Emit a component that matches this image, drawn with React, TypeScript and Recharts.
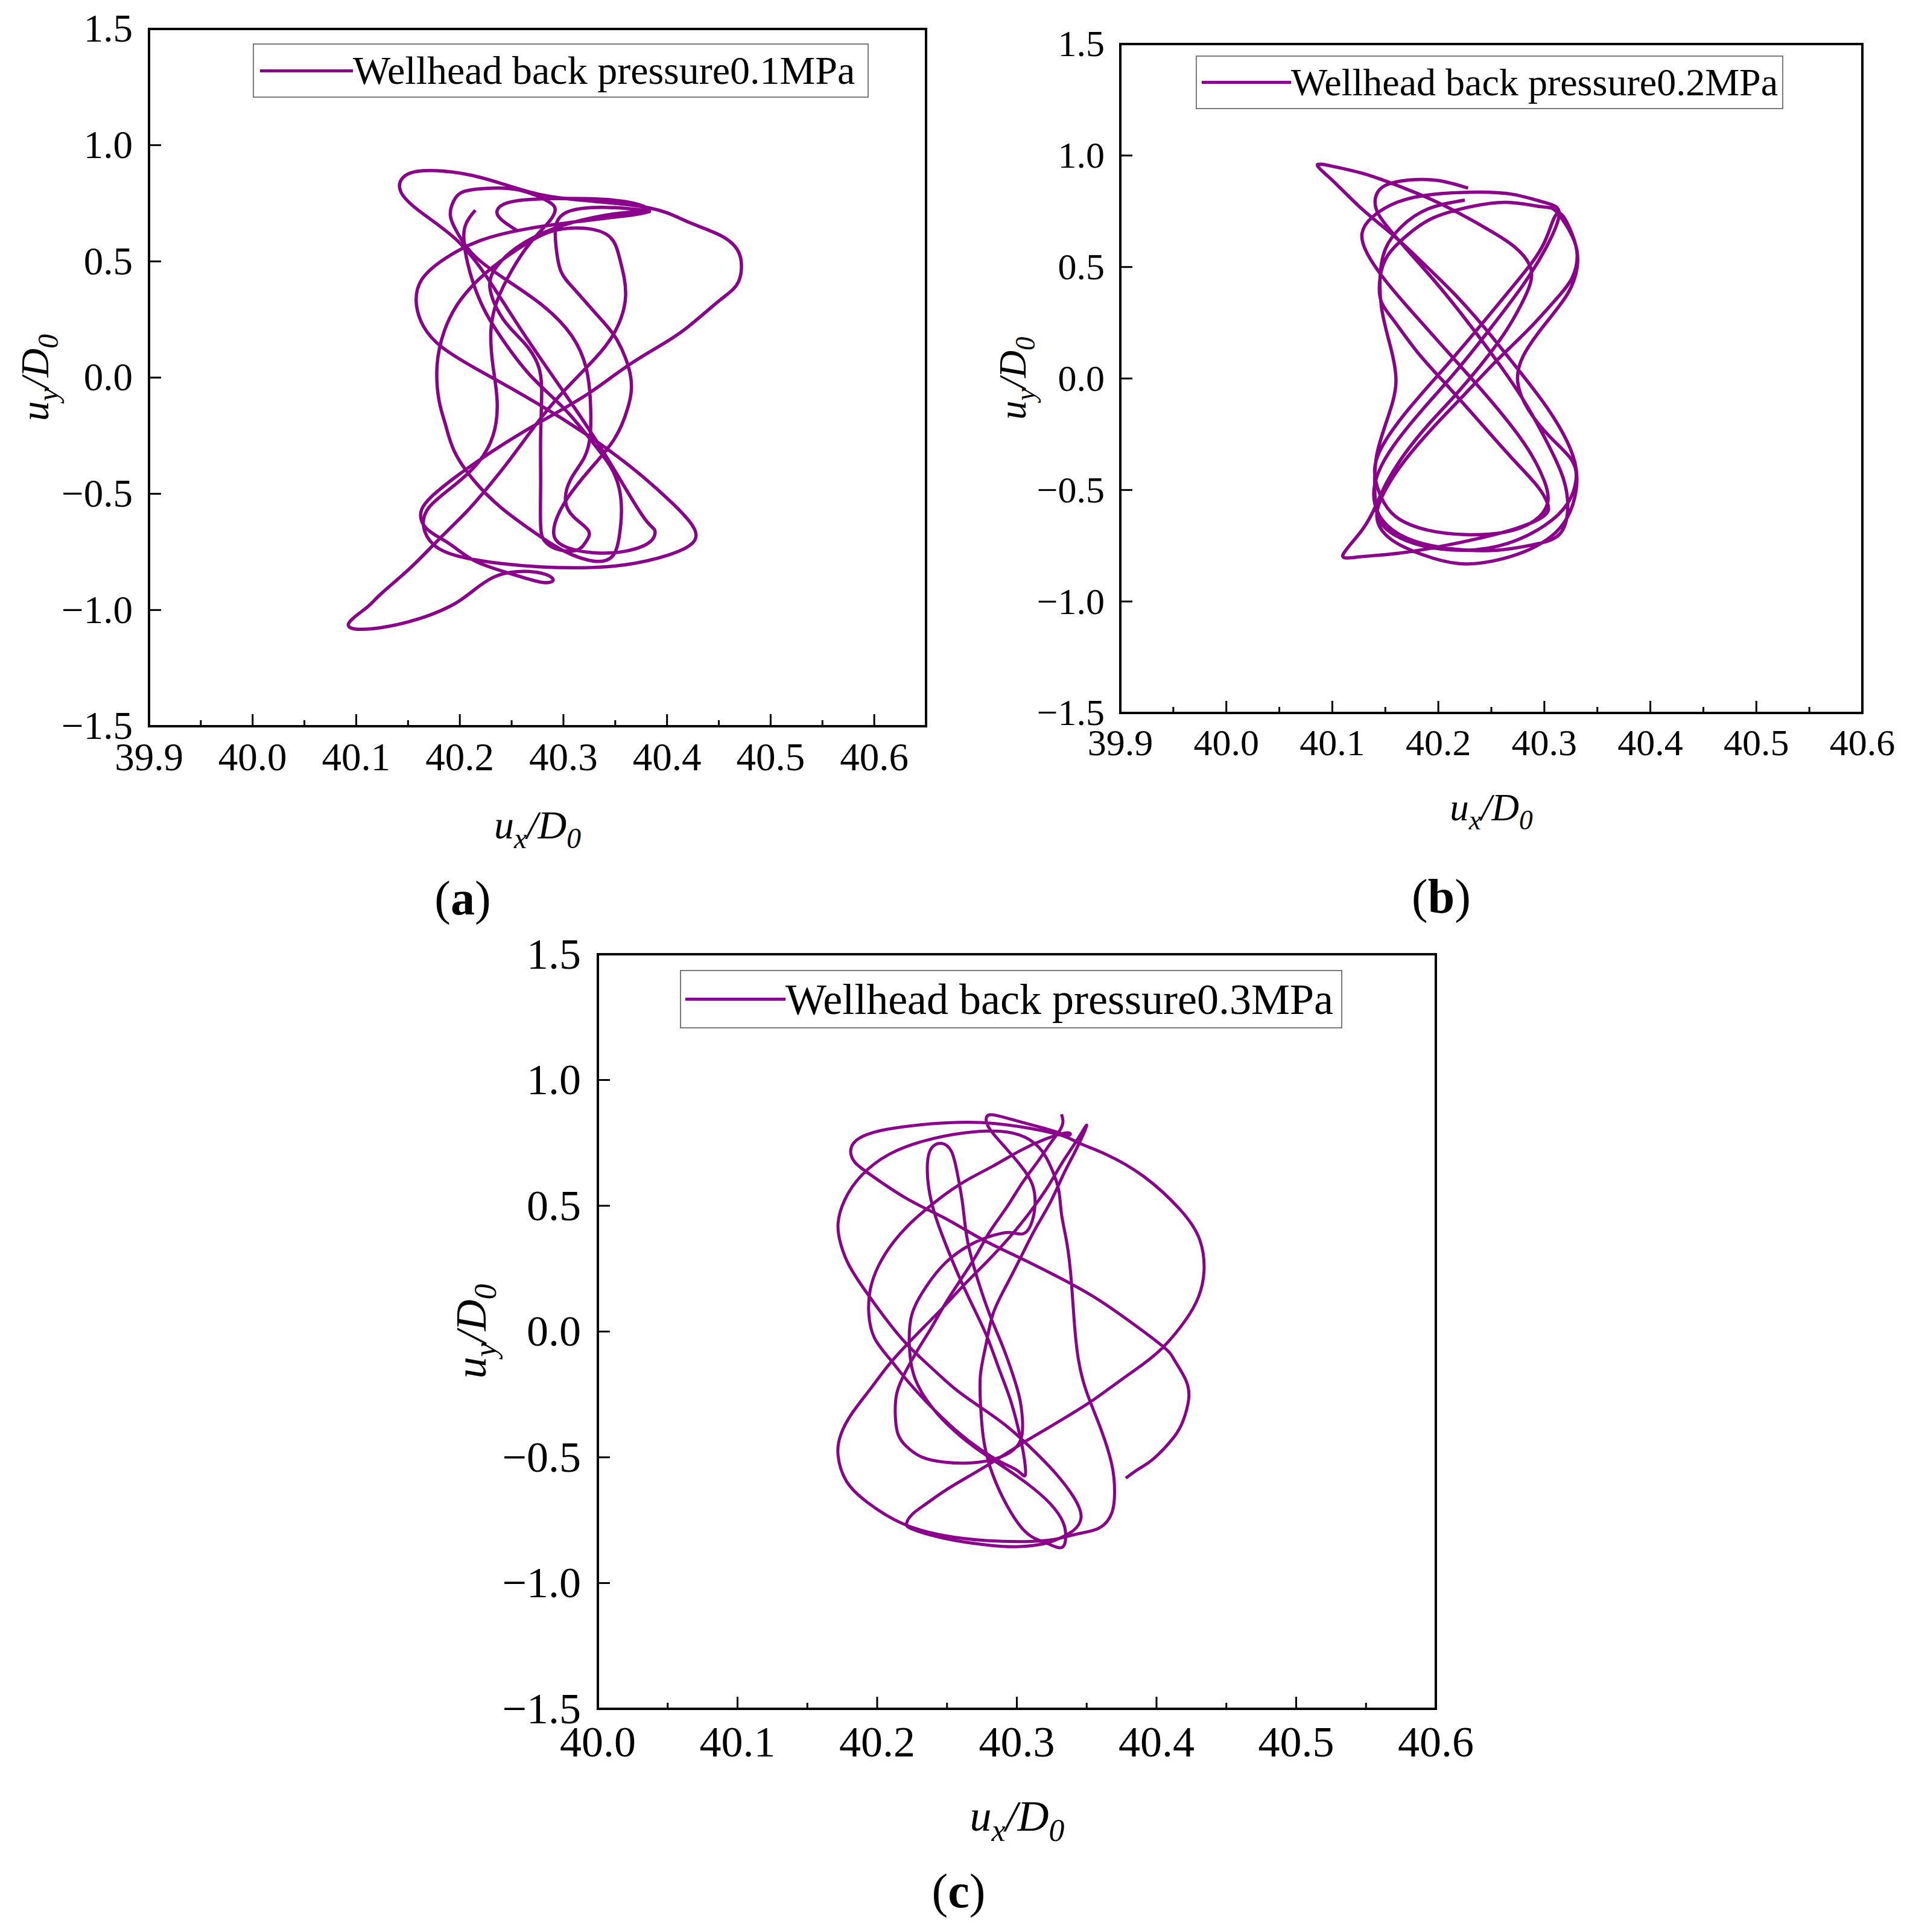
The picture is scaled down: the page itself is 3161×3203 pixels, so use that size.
import React from 'react'
import { LineChart, Line, XAxis, YAxis, Legend, ReferenceArea } from 'recharts'

const PURPLE = '#8B008B'
const SERIF = '"Liberation Serif", "Times New Roman", serif'

const yTicks = [-1.5, -1.0, -0.5, 0, 0.5, 1.0, 1.5]
const xTicksAB = [39.9, 39.95, 40.0, 40.05, 40.1, 40.15, 40.2, 40.25, 40.3, 40.35, 40.4, 40.45, 40.5, 40.55, 40.6]
const xTicksC = [40.0, 40.05, 40.1, 40.15, 40.2, 40.25, 40.3, 40.35, 40.4, 40.45, 40.5, 40.55, 40.6]

const legendA = 'Wellhead back pressure0.1MPa'
const legendB = 'Wellhead back pressure0.2MPa'
const legendC = 'Wellhead back pressure0.3MPa'

// trajectory (u_x/D0, u_y/D0) in drawing order
const pathA: [number, number][] = [
  [40.255, 0.633], [40.240, 0.680], [40.236, 0.718], [40.246, 0.752], [40.275, 0.768], [40.320, 0.770], [40.360, 0.757], [40.383, 0.722],
  [40.362, 0.697], [40.315, 0.672], [40.265, 0.640], [40.220, 0.590], [40.185, 0.510], [40.163, 0.420], [40.158, 0.320], [40.165, 0.220],
  [40.183, 0.130], [40.215, 0.040], [40.255, -0.060], [40.300, -0.180], [40.340, -0.300], [40.375, -0.420], [40.405, -0.540], [40.425, -0.640],
  [40.425, -0.710], [40.400, -0.765], [40.360, -0.805], [40.320, -0.818], [40.280, -0.815], [40.240, -0.800], [40.200, -0.770], [40.175, -0.720],
  [40.165, -0.640], [40.170, -0.560], [40.190, -0.480], [40.215, -0.380], [40.232, -0.250], [40.236, -0.100], [40.232, 0.050], [40.230, 0.200],
  [40.236, 0.330], [40.250, 0.460], [40.268, 0.580], [40.286, 0.670], [40.292, 0.720], [40.285, 0.759], [40.258, 0.806], [40.231, 0.815],
  [40.205, 0.802], [40.194, 0.759], [40.191, 0.693], [40.199, 0.613], [40.215, 0.520], [40.245, 0.420], [40.280, 0.310], [40.308, 0.180],
  [40.322, 0.040], [40.326, -0.100], [40.326, -0.240], [40.320, -0.345], [40.307, -0.438], [40.302, -0.530], [40.310, -0.600], [40.324, -0.657],
  [40.322, -0.704], [40.312, -0.744], [40.293, -0.737], [40.282, -0.704], [40.278, -0.637], [40.278, -0.450], [40.278, -0.250], [40.279, -0.050],
  [40.275, 0.060], [40.262, 0.150], [40.242, 0.250], [40.229, 0.387], [40.236, 0.480], [40.255, 0.560], [40.290, 0.640], [40.330, 0.690],
  [40.365, 0.712], [40.383, 0.715], [40.360, 0.728], [40.330, 0.732], [40.305, 0.715], [40.293, 0.660], [40.293, 0.559], [40.298, 0.453],
  [40.312, 0.373], [40.333, 0.267], [40.352, 0.160], [40.365, 0.001], [40.362, -0.132], [40.349, -0.265], [40.325, -0.398], [40.304, -0.518],
  [40.292, -0.624], [40.293, -0.700], [40.310, -0.740], [40.335, -0.755], [40.362, -0.745], [40.384, -0.705], [40.388, -0.655], [40.376, -0.592],
  [40.340, -0.330], [40.300, -0.060], [40.260, 0.200], [40.225, 0.440], [40.195, 0.600], [40.160, 0.720], [40.143, 0.800], [40.145, 0.860],
  [40.165, 0.890], [40.205, 0.876], [40.240, 0.835], [40.275, 0.790], [40.320, 0.762], [40.383, 0.730], [40.419, 0.672], [40.451, 0.613],
  [40.470, 0.530], [40.469, 0.413], [40.451, 0.333], [40.419, 0.214], [40.392, 0.134], [40.360, 0.045], [40.325, -0.066], [40.285, -0.172],
  [40.245, -0.278], [40.205, -0.398], [40.178, -0.491], [40.163, -0.570], [40.168, -0.650], [40.190, -0.715], [40.215, -0.790], [40.250, -0.845],
  [40.278, -0.880], [40.290, -0.872], [40.280, -0.843], [40.255, -0.835], [40.232, -0.860], [40.212, -0.920], [40.191, -0.983], [40.151, -1.050],
  [40.106, -1.083], [40.093, -1.055], [40.110, -0.990], [40.124, -0.930], [40.151, -0.824], [40.178, -0.704], [40.205, -0.584], [40.221, -0.504],
  [40.245, -0.372], [40.274, -0.199], [40.300, -0.060], [40.330, 0.080], [40.350, 0.200], [40.360, 0.350], [40.355, 0.500], [40.346, 0.600],
  [40.325, 0.640], [40.300, 0.640], [40.280, 0.615], [40.255, 0.550], [40.225, 0.450], [40.200, 0.330], [40.185, 0.200], [40.178, 0.050],
  [40.180, -0.100], [40.186, -0.200], [40.195, -0.320], [40.215, -0.450], [40.240, -0.560], [40.270, -0.660], [40.300, -0.745], [40.330, -0.790],
  [40.348, -0.765], [40.354, -0.680], [40.356, -0.580], [40.354, -0.480], [40.345, -0.380], [40.325, -0.260], [40.300, -0.130], [40.270, 0.000],
  [40.245, 0.140], [40.225, 0.280], [40.212, 0.420], [40.205, 0.550], [40.205, 0.650], [40.215, 0.720],
]

const pathB: [number, number][] = [
  [40.228, 0.854], [40.200, 0.888], [40.172, 0.890], [40.150, 0.866], [40.141, 0.816], [40.142, 0.752], [40.152, 0.680], [40.170, 0.580],
  [40.196, 0.440], [40.225, 0.270], [40.255, 0.080], [40.282, -0.110], [40.303, -0.290], [40.318, -0.450], [40.322, -0.590], [40.314, -0.700],
  [40.290, -0.745], [40.255, -0.770], [40.215, -0.765], [40.178, -0.730], [40.152, -0.660], [40.140, -0.560], [40.142, -0.440], [40.158, -0.300],
  [40.185, -0.140], [40.218, 0.040], [40.250, 0.230], [40.280, 0.420], [40.302, 0.590], [40.314, 0.740],
  [40.300, 0.790], [40.270, 0.826], [40.235, 0.836], [40.195, 0.826], [40.162, 0.792], [40.138, 0.725], [40.128, 0.650], [40.133, 0.560],
  [40.150, 0.440], [40.175, 0.300], [40.205, 0.140], [40.235, -0.020], [40.262, -0.171], [40.285, -0.320], [40.300, -0.460], [40.303, -0.560],
  [40.290, -0.640], [40.262, -0.690], [40.225, -0.700], [40.190, -0.680], [40.160, -0.620], [40.145, -0.520], [40.140, -0.404], [40.150, -0.280],
  [40.175, -0.120], [40.208, 0.060], [40.242, 0.250], [40.275, 0.440], [40.300, 0.610], [40.313, 0.742],
  [40.326, 0.650], [40.331, 0.550], [40.326, 0.450], [40.310, 0.350], [40.285, 0.220], [40.255, 0.080], [40.225, -0.070], [40.195, -0.220],
  [40.168, -0.370], [40.150, -0.500], [40.142, -0.620], [40.155, -0.720], [40.185, -0.790], [40.219, -0.830], [40.252, -0.818], [40.282, -0.775],
  [40.306, -0.710], [40.322, -0.620], [40.330, -0.500], [40.329, -0.380], [40.318, -0.250], [40.298, -0.100], [40.272, 0.060], [40.245, 0.220],
  [40.215, 0.380], [40.185, 0.520], [40.158, 0.640], [40.128, 0.760], [40.102, 0.880], [40.086, 0.955],
  [40.100, 0.952], [40.130, 0.918], [40.160, 0.868], [40.190, 0.810], [40.220, 0.740], [40.250, 0.660], [40.272, 0.590], [40.286, 0.510],
  [40.287, 0.430], [40.278, 0.330], [40.262, 0.200], [40.240, 0.060], [40.215, -0.080], [40.190, -0.210], [40.168, -0.340], [40.152, -0.460],
  [40.142, -0.560], [40.128, -0.680], [40.110, -0.791], [40.125, -0.800], [40.160, -0.785], [40.200, -0.755], [40.240, -0.715], [40.275, -0.670],
  [40.300, -0.615], [40.303, -0.560], [40.293, -0.480], [40.270, -0.360], [40.240, -0.200], [40.210, -0.040], [40.180, 0.120], [40.158, 0.260],
  [40.146, 0.347], [40.145, 0.450], [40.152, 0.550], [40.170, 0.640], [40.195, 0.720], [40.230, 0.770], [40.265, 0.790], [40.298, 0.770],
  [40.312, 0.745], [40.328, 0.620], [40.331, 0.500], [40.322, 0.380], [40.300, 0.240], [40.280, 0.100], [40.275, -0.020], [40.285, -0.140],
  [40.305, -0.260], [40.325, -0.360], [40.330, -0.450], [40.322, -0.560], [40.300, -0.660], [40.265, -0.740], [40.225, -0.770], [40.185, -0.750],
  [40.158, -0.700], [40.143, -0.620], [40.140, -0.480], [40.142, -0.340], [40.152, -0.180], [40.160, -0.020], [40.155, 0.140], [40.147, 0.300],
  [40.145, 0.450], [40.150, 0.580], [40.165, 0.680], [40.190, 0.760], [40.225, 0.800],
]

const pathC: [number, number][] = [
  // from the upper free end down the bundle to the lower-left loop
  [40.332, 0.864], [40.333, 0.836], [40.331, 0.802], [40.324, 0.748], [40.315, 0.676], [40.304, 0.592], [40.293, 0.496], [40.281, 0.400],
  [40.271, 0.304], [40.260, 0.208], [40.249, 0.113], [40.239, 0.017], [40.229, -0.073], [40.220, -0.163], [40.214, -0.247], [40.213, -0.337],
  [40.215, -0.409], [40.221, -0.457], [40.232, -0.499], [40.248, -0.519], [40.265, -0.523], [40.281, -0.511], [40.295, -0.481], [40.303, -0.427],
  [40.304, -0.349],
  // tall thin loop
  [40.302, -0.265], [40.297, -0.169], [40.290, -0.061], [40.282, 0.047], [40.275, 0.154], [40.269, 0.262], [40.264, 0.382], [40.261, 0.514],
  [40.257, 0.640], [40.253, 0.718], [40.246, 0.748], [40.239, 0.730], [40.236, 0.670], [40.237, 0.568], [40.242, 0.454], [40.250, 0.334],
  [40.259, 0.214], [40.269, 0.095], [40.279, -0.025], [40.287, -0.145], [40.295, -0.265], [40.301, -0.385], [40.305, -0.493], [40.306, -0.571],
  // back up to the left and over the top
  [40.301, -0.555], [40.290, -0.523], [40.274, -0.469], [40.256, -0.391], [40.239, -0.301], [40.223, -0.205], [40.209, -0.109], [40.198, -0.025],
  [40.194, 0.071], [40.195, 0.166], [40.201, 0.262], [40.212, 0.358], [40.226, 0.442], [40.244, 0.526], [40.263, 0.598], [40.283, 0.658],
  [40.302, 0.718], [40.320, 0.764], [40.336, 0.790], [40.337, 0.780],
  // small top loop, inner loop, down to the bottom tip
  [40.327, 0.796], [40.309, 0.824], [40.292, 0.850], [40.281, 0.862], [40.278, 0.844], [40.281, 0.802], [40.292, 0.730], [40.303, 0.658],
  [40.311, 0.586], [40.313, 0.502], [40.310, 0.424], [40.304, 0.388], [40.295, 0.394], [40.283, 0.382], [40.267, 0.346], [40.249, 0.274],
  [40.235, 0.178], [40.225, 0.071], [40.223, -0.049], [40.226, -0.169], [40.236, -0.277], [40.251, -0.373], [40.269, -0.457], [40.288, -0.529],
  [40.308, -0.607], [40.324, -0.685], [40.333, -0.757], [40.335, -0.817], [40.332, -0.859],
  // up to the spike
  [40.322, -0.843], [40.311, -0.817], [40.301, -0.763], [40.290, -0.661], [40.281, -0.541], [40.276, -0.421], [40.274, -0.289], [40.274, -0.169],
  [40.278, -0.049], [40.283, 0.071], [40.292, 0.178], [40.302, 0.286], [40.313, 0.406], [40.324, 0.514], [40.334, 0.632], [40.343, 0.730],
  [40.350, 0.820],
  // spike down to the outer lower-left loop
  [40.343, 0.760], [40.333, 0.676], [40.322, 0.574], [40.309, 0.472], [40.295, 0.376], [40.279, 0.280], [40.263, 0.190], [40.246, 0.089],
  [40.228, -0.013], [40.210, -0.121], [40.195, -0.229], [40.182, -0.325], [40.174, -0.409], [40.172, -0.493], [40.178, -0.595], [40.193, -0.679],
  [40.218, -0.763], [40.248, -0.811], [40.278, -0.831], [40.306, -0.835], [40.327, -0.826], [40.343, -0.805],
  // right-hand vertical strand, top arc, outer left side
  [40.359, -0.781], [40.368, -0.721], [40.370, -0.637], [40.368, -0.529], [40.360, -0.385], [40.350, -0.241], [40.344, -0.109], [40.341, 0.047],
  [40.339, 0.202], [40.336, 0.346], [40.332, 0.466], [40.330, 0.562], [40.325, 0.646], [40.318, 0.718], [40.306, 0.772], [40.288, 0.796],
  [40.263, 0.790], [40.235, 0.760], [40.209, 0.706], [40.189, 0.622], [40.177, 0.526], [40.172, 0.430], [40.174, 0.346], [40.180, 0.262],
  [40.191, 0.166], [40.205, 0.059], [40.221, -0.049], [40.239, -0.145], [40.256, -0.229], [40.274, -0.301], [40.292, -0.373], [40.309, -0.457],
  [40.327, -0.559], [40.341, -0.661], [40.346, -0.739], [40.340, -0.793], [40.330, -0.823],
  // bottom arc, hook, long line to the right lobe
  [40.320, -0.843], [40.302, -0.855], [40.281, -0.850], [40.256, -0.831], [40.237, -0.807], [40.224, -0.783], [40.221, -0.763], [40.225, -0.727],
  [40.235, -0.685], [40.249, -0.631], [40.267, -0.571], [40.285, -0.511], [40.302, -0.451], [40.320, -0.391], [40.338, -0.331], [40.355, -0.271],
  [40.373, -0.199], [40.391, -0.127], [40.406, -0.055], [40.421, 0.047], [40.430, 0.137], [40.434, 0.238], [40.431, 0.364], [40.417, 0.484],
  [40.391, 0.616], [40.364, 0.704], [40.345, 0.748], [40.334, 0.776],
  // top arc to the left, diagonal to the lower-right bulge, free end
  [40.309, 0.808], [40.274, 0.831], [40.239, 0.826], [40.207, 0.804], [40.187, 0.768], [40.181, 0.718], [40.184, 0.673], [40.194, 0.628],
  [40.221, 0.529], [40.248, 0.452], [40.274, 0.370], [40.301, 0.296], [40.327, 0.224], [40.354, 0.142], [40.380, 0.044], [40.405, -0.061],
  [40.413, -0.115], [40.421, -0.193], [40.423, -0.271], [40.419, -0.355], [40.412, -0.423], [40.398, -0.505], [40.387, -0.547], [40.378, -0.583],
]

const toRows = (p: [number, number][]) => p.map(([x, y]) => ({ x, y }))

const fmtY = (v: number) => (v < -1e-9 ? '\u2212' + Math.abs(v).toFixed(1) : Math.abs(v).toFixed(1))
const isMajor = (v: number) => Math.abs(v * 10 - Math.round(v * 10)) < 1e-6

function XTick(props: any) {
  const { x, y, payload, fs, dy } = props
  const v = Number(payload.value)
  const major = isMajor(v)
  return (
    <g>
      <line x1={x} x2={x} y1={y} y2={y - (major ? 20 : 10)} stroke="#000" strokeWidth={3} />
      {major && (
        <text x={x} y={y + dy} textAnchor="middle" fontFamily={SERIF} fontSize={fs} fill="#000">
          {v.toFixed(1)}
        </text>
      )}
    </g>
  )
}

function YTick(props: any) {
  const { x, y, payload, fs, gap } = props
  const v = Number(payload.value)
  return (
    <g>
      <line x1={x} x2={x + 20} y1={y} y2={y} stroke="#000" strokeWidth={3} />
      <text x={x - gap} y={y + fs * 0.33} textAnchor="end" fontFamily={SERIF} fontSize={fs} fill="#000">
        {fmtY(v)}
      </text>
    </g>
  )
}

function Title({ sub, fs, x, y, rotate }: any) {
  const s = fs * 0.72
  const d = fs * 0.24
  return (
    <text
      x={x}
      y={y}
      textAnchor="middle"
      fontFamily={SERIF}
      fontSize={fs}
      fontStyle="italic"
      fill="#000"
      transform={rotate ? `rotate(-90 ${x} ${y})` : undefined}
    >
      <tspan>u</tspan>
      <tspan fontSize={s} dy={d}>{sub}</tspan>
      <tspan dy={-d}>/D</tspan>
      <tspan fontSize={s} dy={d}>0</tspan>
    </text>
  )
}

function LegendBox({ text, w, h, pad, lineW, fs }: any) {
  return (
    <div
      style={{
        width: w,
        height: h,
        boxSizing: 'border-box',
        border: '2px solid #7a7a7a',
        background: '#fff',
        display: 'flex',
        alignItems: 'center',
        paddingLeft: pad,
        fontFamily: SERIF,
        fontSize: fs,
        color: '#000',
        whiteSpace: 'nowrap',
      }}
    >
      <div style={{ width: lineW, height: 5, background: PURPLE, flex: 'none' }} />
      <span style={{ lineHeight: 1 }}>{text}</span>
    </div>
  )
}

function Panel(p: any) {
  return (
    <div style={{ position: 'absolute', left: p.left, top: p.top, width: p.width, height: p.height }}>
      <LineChart width={p.width} height={p.height} data={toRows(p.path)} margin={p.margin}>
        <XAxis
          dataKey="x"
          type="number"
          domain={p.domainX}
          allowDataOverflow
          ticks={p.xTicks}
          interval={0}
          height={p.xAxisH}
          tickSize={0}
          tickMargin={0}
          tickLine={false}
          axisLine={{ stroke: '#000', strokeWidth: 4 }}
          tick={<XTick fs={p.tickFs} dy={p.xLabelDy} />}
        />
        <YAxis
          type="number"
          domain={[-1.5, 1.5]}
          allowDataOverflow
          ticks={yTicks}
          interval={0}
          width={p.yAxisW}
          tickSize={0}
          tickMargin={0}
          tickLine={false}
          axisLine={{ stroke: '#000', strokeWidth: 4 }}
          tick={<YTick fs={p.tickFs} gap={p.yGap} />}
        />
        <ReferenceArea
          x1={p.domainX[0]}
          x2={p.domainX[1]}
          y1={-1.5}
          y2={1.5}
          fill="none"
          fillOpacity={0}
          stroke="#000"
          strokeWidth={4}
          ifOverflow="visible"
        />
        <Line
          dataKey="y"
          type="natural"
          stroke={PURPLE}
          strokeWidth={p.lineW}
          dot={false}
          activeDot={false}
          isAnimationActive={false}
        />
        <Legend
          layout="vertical"
          align="center"
          verticalAlign="middle"
          wrapperStyle={{ left: p.legend.left, top: p.legend.top, width: p.legend.w, height: p.legend.h }}
          content={() => <LegendBox {...p.legend} />}
        />
      </LineChart>
      <svg
        width={p.width}
        height={p.height}
        style={{ position: 'absolute', left: 0, top: 0, pointerEvents: 'none', overflow: 'visible' }}
      >
        <Title sub="x" fs={p.titleFs} x={p.xTitle[0]} y={p.xTitle[1]} />
        <Title sub="y" fs={p.titleFs} x={p.yTitle[0]} y={p.yTitle[1]} rotate />
      </svg>
    </div>
  )
}

function PanelTag({ letter, cx, baseline }: any) {
  return (
    <div
      style={{
        position: 'absolute',
        left: cx - 100,
        width: 200,
        top: baseline - 67,
        textAlign: 'center',
        fontFamily: SERIF,
        fontSize: 80,
        lineHeight: '80px',
        color: '#000',
      }}
    >
      (<b>{letter}</b>)
    </div>
  )
}

export default function App() {
  return (
    <div style={{ position: 'absolute', left: 0, top: 0, width: 3161, height: 3203, background: '#fff', overflow: 'hidden' }}>
      <Panel
        left={0}
        top={0}
        width={1600}
        height={1460}
        margin={{ top: 48, right: 65, bottom: 0, left: 0 }}
        yAxisW={247}
        xAxisH={256}
        domainX={[39.9, 40.65]}
        xTicks={xTicksAB}
        path={pathA}
        tickFs={65}
        xLabelDy={73}
        yGap={27}
        titleFs={66}
        xTitle={[891, 1390]}
        yTitle={[80, 626]}
        lineW={5.5}
        legend={{ left: 419, top: 72, w: 1021, h: 90, pad: 10, lineW: 154, fs: 66, text: legendA }}
      />
      <Panel
        left={1600}
        top={0}
        width={1561}
        height={1460}
        margin={{ top: 73, right: 74, bottom: 0, left: 0 }}
        yAxisW={257}
        xAxisH={278}
        domainX={[39.9, 40.6]}
        xTicks={xTicksAB}
        path={pathB}
        tickFs={62}
        xLabelDy={70}
        yGap={26}
        titleFs={63}
        xTitle={[872, 1360]}
        yTitle={[100, 627]}
        lineW={5.5}
        legend={{ left: 382, top: 92, w: 974, h: 89, pad: 8, lineW: 148, fs: 64, text: legendB }}
      />
      <Panel
        left={700}
        top={1500}
        width={1760}
        height={1703}
        margin={{ top: 82, right: 80, bottom: 0, left: 0 }}
        yAxisW={291}
        xAxisH={370}
        domainX={[40.0, 40.6]}
        xTicks={xTicksC}
        path={pathC}
        tickFs={72}
        xLabelDy={79}
        yGap={28}
        titleFs={72}
        xTitle={[986, 1535]}
        yTitle={[105, 707]}
        lineW={5}
        legend={{ left: 427, top: 108, w: 1098, h: 97, pad: 7, lineW: 166, fs: 72, text: legendC }}
      />
      <PanelTag letter="a" cx={767} baseline={1516} />
      <PanelTag letter="b" cx={2389} baseline={1513} />
      <PanelTag letter="c" cx={1589} baseline={3162} />
    </div>
  )
}
